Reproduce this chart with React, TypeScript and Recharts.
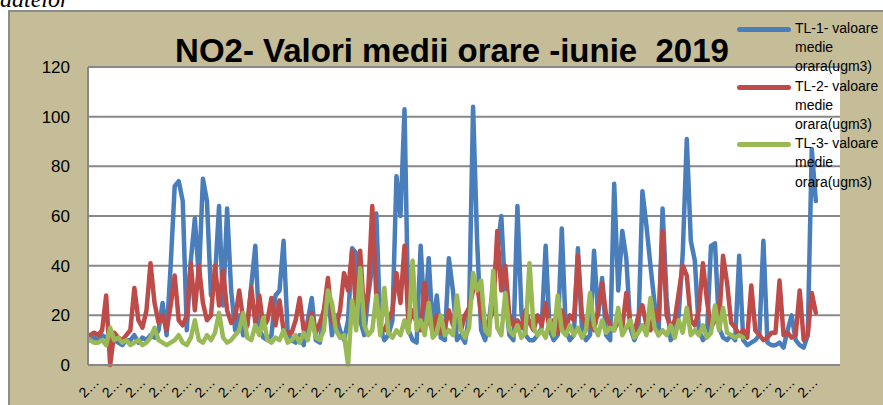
import React from "react"
import { LineChart, Line, XAxis, YAxis, CartesianGrid } from "recharts"

// NO2 hourly means, June 2019 — values read every 4 hours off the reference
const stepHours = 4

const tl1 = [
  10, 11, 10, 12, 11, 9, 10, 9, 8, 10,
  10, 12, 9, 11, 10, 12, 11, 14, 25, 12,
  40, 72, 74, 66, 14, 42, 59, 35, 75, 66,
  28, 35, 64, 24, 63, 30, 14, 20, 12, 16,
  32, 48, 14, 11, 10, 12, 28, 30, 50, 14,
  10, 9, 12, 8, 18, 27, 10, 9, 22, 30,
  12, 20, 14, 10, 18, 47, 45, 18, 12, 28,
  40, 61, 15, 10, 12, 18, 76, 60, 103, 14,
  10, 9, 48, 18, 43, 14, 28, 11, 10, 43,
  30, 10, 12, 9, 20, 104, 50, 14, 10, 18,
  33, 45, 60, 28, 12, 10, 64, 21, 12, 10,
  10, 12, 15, 48, 14, 10, 12, 55, 14, 10,
  12, 47, 14, 10, 12, 46, 20, 35, 12, 10,
  73, 30, 54, 43, 15, 10, 14, 70, 56, 40,
  25, 12, 63, 27, 10, 12, 20, 45, 91, 50,
  42, 14, 10, 12, 48, 49, 15, 11, 10, 12,
  10, 44, 10, 8, 9, 10, 12, 50, 9, 8,
  8, 9, 7, 14, 20, 10, 8, 7, 12, 87,
  66,
]

const tl2 = [
  12, 13, 12, 14, 28, 0, 13, 11, 10, 12,
  14, 31, 18, 15, 22, 41, 25, 17, 20, 14,
  24, 36, 18, 16, 20, 41, 22, 40, 25, 18,
  20, 40, 24, 38, 22, 17, 19, 30, 18, 16,
  31, 17, 28, 15, 18, 27, 16, 26, 14, 13,
  13, 18, 27, 14, 16, 21, 13, 17, 22, 35,
  18, 15, 22, 37, 30, 46, 22, 46, 20, 30,
  64, 28, 15, 14, 18, 22, 37, 25, 48, 16,
  22, 17, 14, 33, 18, 14, 20, 13, 15, 22,
  16, 25, 14, 20, 23, 30, 33, 20, 15, 18,
  22, 54, 30, 40, 20, 16, 18, 15, 22, 17,
  14, 20, 16, 25, 14, 18, 13, 22, 15, 20,
  18, 44, 20, 15, 17, 14, 22, 33, 20, 16,
  14, 18, 15, 29, 17, 13, 20, 24, 16, 14,
  22, 18, 54, 20, 15, 18, 29, 40, 36, 18,
  16, 22, 41, 26, 15, 18, 17, 44, 33, 17,
  15, 12, 14, 11, 32, 14, 12, 10, 11, 13,
  13, 34, 12, 13, 11, 12, 30, 10, 12, 29,
  21,
]

const tl3 = [
  10, 9, 9, 10, 8, 15, 10, 11, 9, 10,
  8, 9, 10, 8, 9, 11, 15, 10, 9, 8,
  9, 10, 12, 9, 8, 11, 18, 10, 9, 12,
  10, 13, 21, 11, 9, 10, 12, 14, 21, 11,
  10, 16, 12, 19, 10, 9, 11, 10, 14, 9,
  10, 12, 9, 13, 10, 19, 11, 10, 14, 30,
  25, 14, 11, 12, 0, 26, 14, 39, 16, 12,
  14, 28, 12, 31, 13, 11, 14, 12, 18, 13,
  42, 14, 18, 12, 25, 11, 13, 20, 12, 14,
  12, 28, 14, 11, 15, 37, 30, 34, 14, 12,
  38, 15, 12, 29, 14, 12, 16, 11, 13, 41,
  15, 12, 14, 11, 18, 12, 28, 14, 12, 16,
  12, 15, 11, 14, 29, 16, 12, 18, 13, 15,
  14, 23, 12, 15, 18, 11, 13, 16, 12, 27,
  15, 12, 14, 12, 16, 11, 18, 13, 23, 12,
  14, 12, 16, 11, 13, 24, 14, 23, 13, 12,
  11, 12, 11,
]

const yTicks = [0, 20, 40, 60, 80, 100, 120]
// one label every 23 hours, all of them truncated to "2…" like the original
const xTickEvery = 23
const xTickCount = 32
const xTickLabel = "2\u2026"

const series = [
  { key: "tl1", name: "TL-1- valoare medie orara(ugm3)", color: "#4A7EBB" },
  { key: "tl2", name: "TL-2- valoare medie orara(ugm3)", color: "#BE4B48" },
  { key: "tl3", name: "TL-3- valoare medie orara(ugm3)", color: "#98B954" },
]

const data = tl1.map((v, i) => ({
  h: i * stepHours,
  tl1: v,
  tl2: tl2[i] ?? null,
  tl3: tl3[i] ?? null,
}))

const xTicks = Array.from({ length: xTickCount }, (_, i) => i * xTickEvery)

const font = "'Liberation Sans', Arial, sans-serif"

// eslint-disable-next-line @typescript-eslint/no-explicit-any
function XTick({ x }: any) {
  const ax = x + 10
  const ay = 383
  return (
    <text
      x={ax}
      y={ay}
      transform={`rotate(-45 ${ax} ${ay})`}
      textAnchor="end"
      fontSize={14}
      fontFamily={font}
      fill="#000"
    >
      {xTickLabel}
    </text>
  )
}

function Legend() {
  return (
    <div style={{ position: "absolute", left: 737, top: 19, fontFamily: font, fontSize: 14, lineHeight: "19.2px", color: "#000" }}>
      {series.map((s) => {
        const words = s.name.split(" ")
        const lines = [words.slice(0, 2).join(" "), words[2], words[3]]
        return (
          <div key={s.key} style={{ position: "relative", height: 57.6 }}>
            <div style={{ position: "absolute", left: 0, top: 8, width: 54, height: 5, borderRadius: 3, background: s.color }} />
            <div style={{ position: "absolute", left: 58, top: 0, whiteSpace: "nowrap" }}>
              {lines.map((l) => (
                <div key={l}>{l}</div>
              ))}
            </div>
          </div>
        )
      })}
    </div>
  )
}

export default function App() {
  return (
    <div style={{ position: "absolute", left: 0, top: 0, width: 883, height: 405, overflow: "hidden", background: "#fff" }}>
      <div
        style={{
          position: "absolute",
          left: 0,
          top: -13,
          fontFamily: "'Liberation Serif', serif",
          fontStyle: "italic",
          fontSize: 24,
          lineHeight: "24px",
        }}
      >
        datelor
      </div>
      <div
        style={{
          position: "absolute",
          left: 8,
          top: 10,
          width: 900,
          height: 420,
          background: "#C4BD97",
          border: "2px solid #8C8C8C",
          boxSizing: "border-box",
        }}
      />
      <div style={{ position: "absolute", left: 0, top: 0 }}>
        <LineChart width={883} height={405} data={data} margin={{ top: 67, right: 43, bottom: 10, left: 28 }}>
          <CartesianGrid vertical={false} fill="#fff" stroke="#888" strokeWidth={2} />
          <XAxis
            dataKey="h"
            type="number"
            domain={[-2, 744]}
            ticks={xTicks}
            interval={0}
            height={30}
            tick={<XTick />}
            tickLine={false}
            tickSize={0}
            axisLine={{ stroke: "#888", strokeWidth: 2 }}
          />
          <YAxis
            domain={[0, 120]}
            ticks={yTicks}
            width={60}
            tickLine={false}
            tickSize={0}
            tickMargin={18}
            axisLine={{ stroke: "#888", strokeWidth: 2 }}
            tick={{ fontSize: 17, fill: "#000", fontFamily: font }}
          />
          {series.map((s) => (
            <Line
              key={s.key}
              dataKey={s.key}
              name={s.name}
              type="linear"
              stroke={s.color}
              strokeWidth={4.5}
              strokeLinejoin="round"
              strokeLinecap="round"
              dot={false}
              isAnimationActive={false}
            />
          ))}
        </LineChart>
      </div>
      <div
        style={{
          position: "absolute",
          left: 452,
          top: 33,
          transform: "translateX(-50%)",
          whiteSpace: "pre",
          fontFamily: font,
          fontWeight: "bold",
          fontSize: 33,
          lineHeight: "36px",
          color: "#000",
        }}
      >
        {"NO2- Valori medii orare -iunie  2019"}
      </div>
      <Legend />
    </div>
  )
}
